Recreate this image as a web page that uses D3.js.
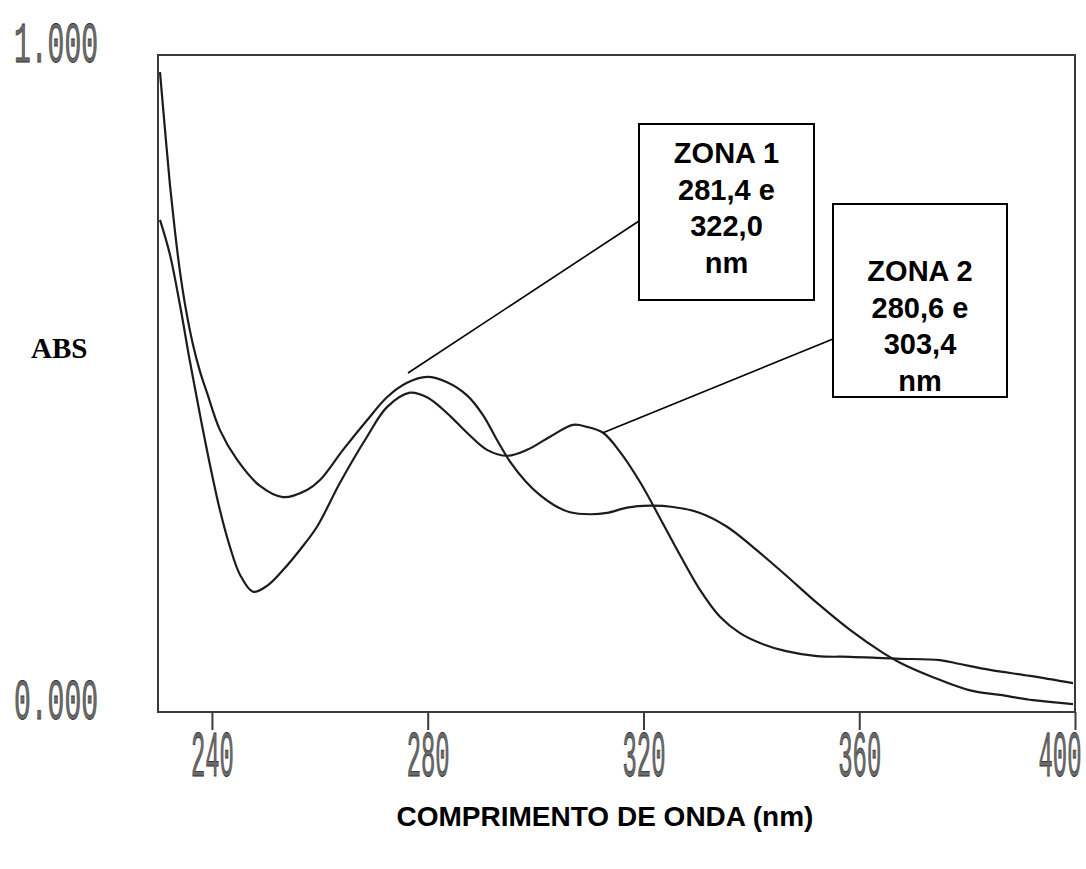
<!DOCTYPE html>
<html>
<head>
<meta charset="utf-8">
<script src="https://cdn.jsdelivr.net/npm/d3@7"></script>
<style>
  html, body { margin: 0; padding: 0; background: #fff; }
  svg { display: block; }
</style>
</head>
<body>
<svg id="chart" width="1086" height="869"></svg>
<script>
// Wavelength (nm) sampled along each absorbance spectrum
const zona1Wavelength = [230.37, 231.30, 232.22, 233.15, 234.08, 235.19, 236.49, 237.79, 239.08, 241.49, 244.65, 248.91, 253.17, 257.62, 260.03, 264.30, 268.75, 272.45, 276.16, 279.87, 283.58, 287.29, 290.25, 292.85, 295.26, 298.04, 300.82, 303.60, 306.38, 310.09, 313.24, 316.95, 321.21, 325.48, 330.48, 335.49, 340.31, 345.87, 352.17, 358.29, 364.41, 367.56, 373.68, 380.54, 386.10, 392.22, 399.63];
const zona1Abs = [0.974, 0.886, 0.802, 0.731, 0.670, 0.612, 0.559, 0.518, 0.486, 0.429, 0.384, 0.344, 0.327, 0.338, 0.353, 0.399, 0.444, 0.479, 0.501, 0.510, 0.502, 0.482, 0.452, 0.414, 0.381, 0.352, 0.330, 0.314, 0.304, 0.301, 0.303, 0.311, 0.314, 0.312, 0.303, 0.282, 0.251, 0.212, 0.166, 0.125, 0.090, 0.075, 0.053, 0.033, 0.026, 0.018, 0.012];

const zona2Wavelength = [230.37, 232.22, 234.08, 235.93, 237.79, 239.64, 241.49, 243.35, 245.20, 247.61, 250.21, 253.17, 256.33, 259.48, 263.74, 268.75, 272.45, 276.72, 279.87, 283.58, 287.29, 290.99, 294.70, 298.41, 302.67, 306.94, 309.53, 312.50, 315.65, 319.36, 323.07, 326.77, 330.48, 334.19, 337.90, 341.60, 346.24, 352.17, 358.29, 364.41, 367.56, 374.97, 378.68, 384.24, 391.66, 399.63];
const zona2Abs = [0.749, 0.696, 0.619, 0.533, 0.452, 0.376, 0.307, 0.251, 0.209, 0.183, 0.192, 0.216, 0.247, 0.282, 0.349, 0.419, 0.464, 0.486, 0.479, 0.455, 0.425, 0.399, 0.390, 0.399, 0.419, 0.437, 0.434, 0.425, 0.396, 0.350, 0.295, 0.239, 0.186, 0.145, 0.120, 0.105, 0.093, 0.085, 0.084, 0.082, 0.081, 0.079, 0.073, 0.064, 0.055, 0.044];

// Axis ticks
const xTicks = [240, 280, 320, 360, 400];
const yTicks = [0, 1];

// Callout text, one entry per line
const zona1Lines = ["ZONA 1", "281,4 e", "322,0", "nm"];
const zona2Lines = ["ZONA 2", "280,6 e", "303,4", "nm"];
// Points on the spectra that the callout leaders touch (nm, absorbance)
const zona1Anchor = [276.35, 0.516];
const zona2Anchor = [312.5, 0.425];

const svg = d3.select("#chart");

const x = d3.scaleLinear().domain([230, 400]).range([158, 1075]);
const y = d3.scaleLinear().domain([0, 1]).range([712, 55]);

// Plot frame
svg.append("rect")
  .attr("x", x(230)).attr("y", y(1))
  .attr("width", x(400) - x(230)).attr("height", y(0) - y(1))
  .attr("fill", "none").attr("stroke", "#3a3a3a").attr("stroke-width", 2);

// Narrow plotter-style digits: monospace squeezed horizontally
const xSqueeze = 0.373;
const ySqueeze = 0.483;

// Bottom axis
const xAxis = svg.append("g")
  .attr("transform", `translate(0,${y(0)})`)
  .call(d3.axisBottom(x).tickValues(xTicks).tickSize(18).tickSizeOuter(0).tickFormat(d3.format("d")));
xAxis.select(".domain").remove();
xAxis.selectAll(".tick line").attr("stroke", "#3a3a3a").attr("stroke-width", 2);
xAxis.selectAll(".tick text")
  .attr("x", 0).attr("y", 64).attr("dy", 0)
  .attr("transform", `scale(${xSqueeze},1)`)
  .attr("font-family", "Liberation Mono")
  .attr("font-size", 64)
  .attr("fill", "#6a6a6a").attr("stroke", "#333").attr("stroke-width", 0.9);
// keep the last label inside the page edge
xAxis.selectAll(".tick text").filter(d => d === 400)
  .attr("text-anchor", "end").attr("x", 6 / xSqueeze);

// Left axis labels
const yAxis = svg.append("g")
  .attr("transform", `translate(${x(230)},0)`)
  .call(d3.axisLeft(y).tickValues(yTicks).tickSize(0).tickFormat(d3.format(".3f")));
yAxis.select(".domain").remove();
yAxis.selectAll(".tick text")
  .attr("text-anchor", "start")
  .attr("x", (14 - x(230)) / ySqueeze).attr("dy", 6)
  .attr("transform", `scale(${ySqueeze},1)`)
  .attr("font-family", "Liberation Mono")
  .attr("font-size", 58)
  .attr("fill", "#6a6a6a").attr("stroke", "#333").attr("stroke-width", 0.8);

// Spectra
const line = d3.line()
  .x(d => x(d[0])).y(d => y(d[1]))
  .curve(d3.curveCatmullRom.alpha(0.5));

const spectra = [
  d3.zip(zona1Wavelength, zona1Abs),
  d3.zip(zona2Wavelength, zona2Abs)
];
svg.append("g").selectAll("path")
  .data(spectra)
  .join("path")
  .attr("d", line)
  .attr("fill", "none")
  .attr("stroke", "#1c1c1c")
  .attr("stroke-width", 2.2)
  .attr("stroke-linejoin", "round");

// Callouts
const callouts = [
  { lines: zona1Lines, anchor: zona1Anchor, box: [639, 124, 175, 176], first: 163, end: [639, 221] },
  { lines: zona2Lines, anchor: zona2Anchor, box: [833, 204, 174, 193], first: 281, end: [833, 339] }
];

callouts.forEach(c => {
  svg.append("line")
    .attr("x1", x(c.anchor[0])).attr("y1", y(c.anchor[1]))
    .attr("x2", c.end[0]).attr("y2", c.end[1])
    .attr("stroke", "#000").attr("stroke-width", 1.6);
  svg.append("rect")
    .attr("x", c.box[0]).attr("y", c.box[1])
    .attr("width", c.box[2]).attr("height", c.box[3])
    .attr("fill", "#fff").attr("stroke", "#000").attr("stroke-width", 2);
  svg.append("text")
    .attr("x", c.box[0] + c.box[2] / 2)
    .attr("y", c.first)
    .attr("text-anchor", "middle")
    .attr("font-family", "Liberation Sans, Arial, sans-serif")
    .attr("font-weight", "bold")
    .attr("font-size", 29)
    .selectAll("tspan")
    .data(c.lines)
    .join("tspan")
    .attr("x", c.box[0] + c.box[2] / 2)
    .attr("dy", (d, i) => i === 0 ? 0 : 36.5)
    .text(d => d);
});

// Axis titles
svg.append("text")
  .attr("x", 31).attr("y", 358)
  .attr("font-family", "Liberation Serif, Times New Roman, serif")
  .attr("font-weight", "bold")
  .attr("font-size", 29)
  .text("ABS");

svg.append("text")
  .attr("x", 605).attr("y", 826)
  .attr("text-anchor", "middle")
  .attr("font-family", "Liberation Sans, Arial, sans-serif")
  .attr("font-weight", "bold")
  .attr("font-size", 28)
  .text("COMPRIMENTO DE ONDA (nm)");
</script>
</body>
</html>
